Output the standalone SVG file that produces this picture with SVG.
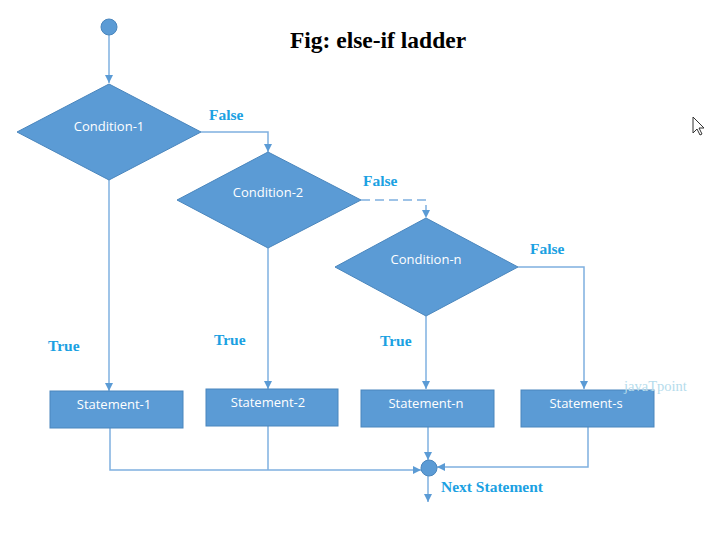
<svg xmlns="http://www.w3.org/2000/svg" width="723" height="537" viewBox="0 0 723 537">
<defs>
<marker id="ah" viewBox="0 0 10 10" refX="10" refY="5" markerWidth="8" markerHeight="8" markerUnits="userSpaceOnUse" orient="auto">
<path d="M0,0 L10,5 L0,10 z" fill="#5b9bd5"/>
</marker>
<style>
.shape{fill:#5b9bd5;stroke:#4a86bd;stroke-width:1}
.st{font-family:"Open Sans","Noto Sans",sans-serif;font-size:13px;fill:#ffffff;text-anchor:middle}
.lbl{font-family:"Liberation Serif",serif;font-weight:bold;font-size:15.5px;fill:#1ba1e2}
.ln{fill:none;stroke:#7fb0e0;stroke-width:1.5}
</style>
</defs>
<rect width="723" height="537" fill="#ffffff"/>
<text x="378" y="48" text-anchor="middle" font-family="Liberation Serif,serif" font-weight="bold" font-size="23.5" fill="#000">Fig: else-if ladder</text>
<g id="connectors">
<line class="ln" x1="109" y1="35" x2="109" y2="83" marker-end="url(#ah)"/>
<polyline class="ln" points="201,132 268,132 268,152" marker-end="url(#ah)"/>
<polyline class="ln" points="361,200 426,200 426,218" stroke-dasharray="9,5" marker-end="url(#ah)"/>
<polyline class="ln" points="518,267 584,267 584,389" marker-end="url(#ah)"/>
<line class="ln" x1="109" y1="180" x2="109" y2="391" marker-end="url(#ah)"/>
<line class="ln" x1="268" y1="248" x2="268" y2="389" marker-end="url(#ah)"/>
<line class="ln" x1="426" y1="316" x2="426" y2="389" marker-end="url(#ah)"/>
<polyline class="ln" points="110,428 110,470 421,470" marker-end="url(#ah)"/>
<line class="ln" x1="268" y1="426" x2="268" y2="470"/>
<line class="ln" x1="428" y1="427" x2="428" y2="460" marker-end="url(#ah)"/>
<polyline class="ln" points="588,427 588,467 437,467" marker-end="url(#ah)"/>
<line class="ln" x1="428" y1="476" x2="428" y2="502" marker-end="url(#ah)"/>
</g>
<g id="start"><circle cx="109" cy="27" r="8" class="shape"/></g>
<g id="cond1"><polygon class="shape" points="109,84 201,132 109,180 17,132"/><text class="st" x="109" y="131">Condition-1</text></g>
<g id="cond2"><polygon class="shape" points="268,152 361,200 268,248 177,200"/><text class="st" x="268" y="197">Condition-2</text></g>
<g id="condn"><polygon class="shape" points="426,218 518,267 426,316 335,267"/><text class="st" x="426" y="264">Condition-n</text></g>
<g id="stmt1"><rect class="shape" x="50" y="391" width="133" height="37"/><text class="st" x="114" y="409">Statement-1</text></g>
<g id="stmt2"><rect class="shape" x="206" y="389" width="132" height="37"/><text class="st" x="268" y="407">Statement-2</text></g>
<g id="stmtn"><rect class="shape" x="361" y="390" width="133" height="37"/><text class="st" x="426" y="408">Statement-n</text></g>
<g id="stmts"><rect class="shape" x="521" y="390" width="133" height="37"/><text class="st" x="586" y="408">Statement-s</text></g>
<g id="end"><circle cx="429" cy="468" r="8" class="shape"/></g>
<g id="labels">
<text class="lbl" x="209" y="120">False</text>
<text class="lbl" x="363" y="186">False</text>
<text class="lbl" x="530" y="254">False</text>
<text class="lbl" x="48" y="351">True</text>
<text class="lbl" x="214" y="345">True</text>
<text class="lbl" x="380" y="346">True</text>
<text class="lbl" x="441" y="492">Next Statement</text>
<text x="624" y="391" font-family="Liberation Serif,serif" font-size="14.5" fill="#b5dcec">javaTpoint</text>
</g>
<path d="M693,117 L693,133 L697,129 L700,135 L702,134 L699,128 L704,128 Z" fill="#fff" stroke="#333" stroke-width="1"/>
</svg>
